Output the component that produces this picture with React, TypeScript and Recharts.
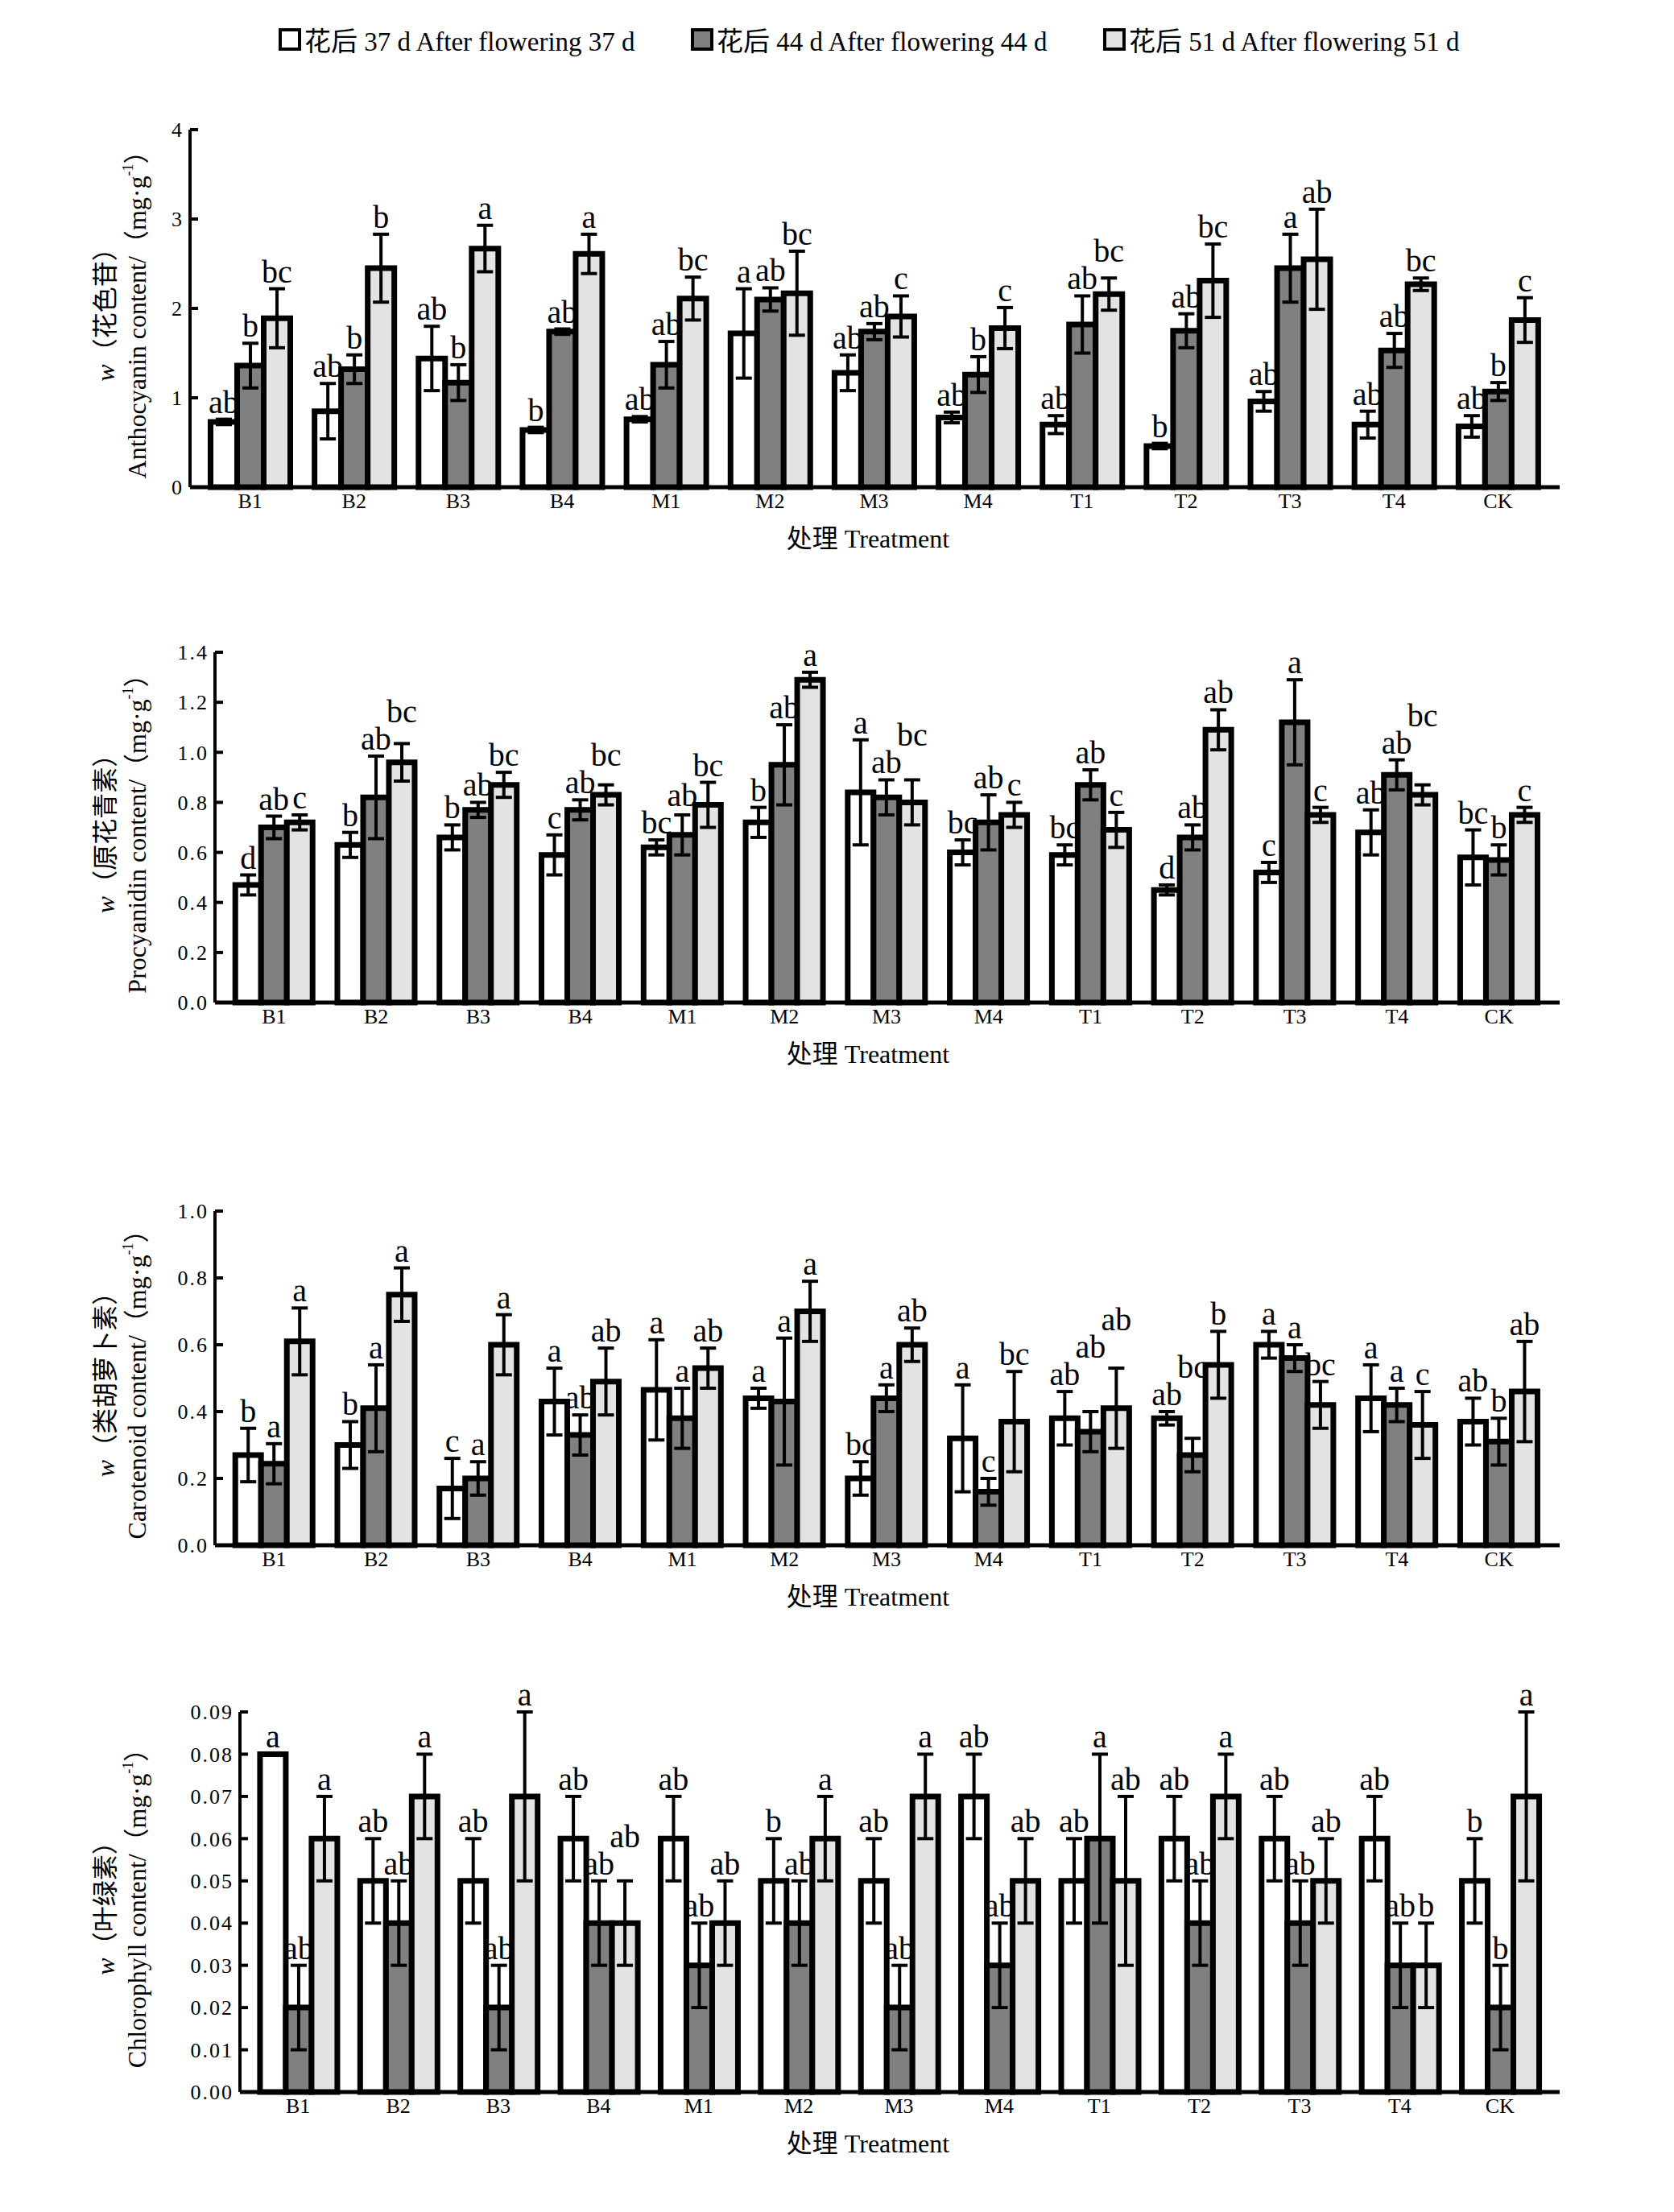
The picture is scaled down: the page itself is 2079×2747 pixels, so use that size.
import React from 'react';
import { BarChart, Bar, XAxis, YAxis, ErrorBar, LabelList } from 'recharts';

const FONT = "'Liberation Serif', 'Noto Sans CJK SC', serif";

const treatments = ['B1', 'B2', 'B3', 'B4', 'M1', 'M2', 'M3', 'M4', 'T1', 'T2', 'T3', 'T4', 'CK'];
const seriesNames = ['花后 37 d After flowering 37 d', '花后 44 d After flowering 44 d', '花后 51 d After flowering 51 d'];
const seriesFills = ['#ffffff', '#808080', '#e3e3e3'];

// Anthocyanin
const antho37 = [0.73, 0.85, 1.44, 0.64, 0.76, 1.72, 1.28, 0.78, 0.70, 0.46, 0.96, 0.70, 0.68];
const antho44 = [1.36, 1.32, 1.17, 1.74, 1.37, 2.10, 1.74, 1.26, 1.82, 1.75, 2.45, 1.53, 1.07];
const antho51 = [1.89, 2.45, 2.67, 2.61, 2.11, 2.17, 1.91, 1.78, 2.16, 2.31, 2.55, 2.27, 1.87];
const anthoErr37 = [0.03, 0.31, 0.36, 0.03, 0.03, 0.50, 0.20, 0.06, 0.10, 0.03, 0.11, 0.15, 0.12];
const anthoErr44 = [0.25, 0.16, 0.20, 0.03, 0.26, 0.13, 0.09, 0.20, 0.32, 0.19, 0.38, 0.19, 0.10];
const anthoErr51 = [0.33, 0.38, 0.26, 0.22, 0.24, 0.47, 0.23, 0.23, 0.18, 0.41, 0.56, 0.07, 0.25];
const anthoSig37 = ['ab', 'ab', 'ab', 'b', 'ab', 'a', 'ab', 'ab', 'ab', 'b', 'ab', 'ab', 'ab'];
const anthoSig44 = ['b', 'b', 'b', 'ab', 'ab', 'ab', 'ab', 'b', 'ab', 'ab', 'a', 'ab', 'b'];
const anthoSig51 = ['bc', 'b', 'a', 'a', 'bc', 'bc', 'c', 'c', 'bc', 'bc', 'ab', 'bc', 'c'];

// Procyanidin
const procy37 = [0.47, 0.63, 0.66, 0.59, 0.62, 0.72, 0.84, 0.60, 0.59, 0.45, 0.52, 0.68, 0.58];
const procy44 = [0.70, 0.82, 0.77, 0.77, 0.67, 0.95, 0.82, 0.72, 0.87, 0.66, 1.12, 0.91, 0.57];
const procy51 = [0.72, 0.96, 0.87, 0.83, 0.79, 1.29, 0.80, 0.75, 0.69, 1.09, 0.75, 0.83, 0.75];
const procyErr37 = [0.04, 0.05, 0.05, 0.08, 0.03, 0.06, 0.21, 0.05, 0.04, 0.02, 0.04, 0.09, 0.11];
const procyErr44 = [0.045, 0.165, 0.03, 0.04, 0.08, 0.16, 0.07, 0.11, 0.06, 0.05, 0.17, 0.06, 0.06];
const procyErr51 = [0.03, 0.075, 0.05, 0.04, 0.09, 0.03, 0.09, 0.05, 0.07, 0.08, 0.03, 0.04, 0.03];
const procySig37 = ['d', 'b', 'b', 'c', 'bc', 'b', 'a', 'bc', 'bc', 'd', 'c', 'ab', 'bc'];
const procySig44 = ['ab', 'ab', 'ab', 'ab', 'ab', 'ab', 'ab', 'ab', 'ab', 'ab', 'a', 'ab', 'b'];
const procySig51 = ['c', 'bc', 'bc', 'bc', 'bc', 'a', 'bc', 'c', 'c', 'ab', 'c', 'bc', 'c'];

// Carotenoid
const carot37 = [0.27, 0.30, 0.17, 0.43, 0.465, 0.44, 0.20, 0.32, 0.38, 0.38, 0.60, 0.44, 0.37];
const carot44 = [0.244, 0.41, 0.20, 0.33, 0.38, 0.43, 0.44, 0.16, 0.34, 0.27, 0.56, 0.42, 0.31];
const carot51 = [0.61, 0.75, 0.60, 0.49, 0.53, 0.70, 0.60, 0.37, 0.41, 0.54, 0.42, 0.36, 0.46];
const carotErr37 = [0.08, 0.07, 0.09, 0.10, 0.15, 0.03, 0.05, 0.16, 0.08, 0.02, 0.04, 0.10, 0.07];
const carotErr44 = [0.06, 0.13, 0.05, 0.06, 0.09, 0.19, 0.04, 0.04, 0.06, 0.05, 0.04, 0.05, 0.07];
const carotErr51 = [0.10, 0.08, 0.09, 0.10, 0.06, 0.09, 0.05, 0.15, 0.12, 0.10, 0.07, 0.10, 0.15];
const carotSig37 = ['b', 'b', 'c', 'a', 'a', 'a', 'bc', 'a', 'ab', 'ab', 'a', 'a', 'ab'];
const carotSig44 = ['a', 'a', 'a', 'ab', 'a', 'a', 'a', 'c', 'ab', 'bc', 'a', 'a', 'b'];
const carotSig51 = ['a', 'a', 'a', 'ab', 'ab', 'a', 'ab', 'bc', 'ab', 'b', 'bc', 'c', 'ab'];

// Chlorophyll
const chl37 = [0.08, 0.05, 0.05, 0.06, 0.06, 0.05, 0.05, 0.07, 0.05, 0.06, 0.06, 0.06, 0.05];
const chl44 = [0.02, 0.04, 0.02, 0.04, 0.03, 0.04, 0.02, 0.03, 0.06, 0.04, 0.04, 0.03, 0.02];
const chl51 = [0.06, 0.07, 0.07, 0.04, 0.04, 0.06, 0.07, 0.05, 0.05, 0.07, 0.05, 0.03, 0.07];
const chlErr37 = [0, 0.01, 0.01, 0.01, 0.01, 0.01, 0.01, 0.01, 0.01, 0.01, 0.01, 0.01, 0.01];
const chlErr44 = [0.01, 0.01, 0.01, 0.01, 0.01, 0.01, 0.01, 0.01, 0.02, 0.01, 0.01, 0.01, 0.01];
const chlErr51 = [0.01, 0.01, 0.02, 0.01, 0.01, 0.01, 0.01, 0.01, 0.02, 0.01, 0.01, 0.01, 0.02];
const chlSig37 = ['a', 'ab', 'ab', 'ab', 'ab', 'b', 'ab', 'ab', 'ab', 'ab', 'ab', 'ab', 'b'];
const chlSig44 = ['ab', 'ab', 'ab', 'ab', 'ab', 'ab', 'ab', 'ab', 'a', 'ab', 'ab', 'ab', 'b'];
const chlSig51 = ['a', 'a', 'a', 'ab', 'ab', 'a', 'a', 'ab', 'ab', 'a', 'ab', 'b', 'a'];

const anthoTicks = [0, 1, 2, 3, 4];
const procyTicks = [0, 0.2, 0.4, 0.6, 0.8, 1.0, 1.2, 1.4];
const carotTicks = [0, 0.2, 0.4, 0.6, 0.8, 1.0];
const chlTicks = [0, 0.01, 0.02, 0.03, 0.04, 0.05, 0.06, 0.07, 0.08, 0.09];

const buildRows = (v: number[][], e: number[][], s: string[][]) =>
  treatments.map((name, i) => ({
    name,
    v37: v[0][i], v44: v[1][i], v51: v[2][i],
    e37: e[0][i], e44: e[1][i], e51: e[2][i],
    s37: s[0][i], s44: s[1][i], s51: s[2][i],
  }));

// significance letter sits just above the error bar; lifted if it would collide with the neighbour's letter
const renderSig = (j: number, values: number[][], errs: number[][], sigs: string[][]) => (props: any) => {
  const vb = props.viewBox ?? props;
  const x = Number(vb.x ?? props.x);
  const y = Number(vb.y ?? props.y);
  const w = Number(vb.width ?? props.width);
  const h = Math.abs(Number(vb.height ?? props.height));
  const i = props.index;
  const v = values[j][i];
  const scale = v > 0 ? h / v : 0;
  const zero = y + h;
  let prev = 0;
  let ly = 0;
  for (let k = 0; k <= j; k++) {
    ly = zero - (values[k][i] + errs[k][i]) * scale - 8;
    if (k > 0 && sigs[k - 1][i].length + sigs[k][i].length >= 4 && Math.abs(ly - prev) < 34) {
      ly = Math.min(ly, prev - 34);
    }
    prev = ly;
  }
  return (
    <text x={x + w / 2} y={ly} textAnchor="middle" fontSize={40} fontFamily={FONT} fill="#000">
      {props.value}
    </text>
  );
};

interface PanelProps {
  top: number;
  height: number;
  axisX: number;
  plotTop: number;
  plotBottom: number;
  values: number[][];
  errs: number[][];
  sigs: string[][];
  ticks: number[];
  digits: number;
  cn: string;
  en: string;
}

function Panel({ top, height, axisX, plotTop, plotBottom, values, errs, sigs, ticks, digits, cn, en }: PanelProps) {
  const rows = buildRows(values, errs, sigs);
  const yWidth = 100;
  const keys = ['37', '44', '51'];
  return (
    <div style={{ position: 'absolute', left: 0, top }}>
      <BarChart
        width={2079}
        height={height}
        data={rows}
        margin={{ top: plotTop - top, left: axisX - yWidth, right: 142, bottom: top + height - plotBottom - 100 }}
        barCategoryGap="12%"
        barGap={0}
      >
        <XAxis
          dataKey="name"
          interval={0}
          height={100}
          tickLine={false}
          tickSize={0}
          tickMargin={8}
          padding={{ left: 10, right: 12 }}
          axisLine={{ stroke: '#000', strokeWidth: 5 }}
          tick={{ fontSize: 26, fill: '#000', fontFamily: FONT }}
          label={(p: any) => (
            <text x={1078} y={(p.viewBox?.y ?? plotBottom - top) + 64} textAnchor="middle" dominantBaseline="central"
              fontSize={32} fontFamily={FONT} fill="#000">
              处理 Treatment
            </text>
          )}
        />
        <YAxis
          width={yWidth}
          domain={[0, ticks[ticks.length - 1]]}
          ticks={ticks}
          tickFormatter={(v: number) => v.toFixed(digits)}
          tickSize={-10}
          tickMargin={18}
          axisLine={{ stroke: '#000', strokeWidth: 4 }}
          tickLine={{ stroke: '#000', strokeWidth: 4 }}
          tick={{ fontSize: 26, fill: '#000', fontFamily: FONT, letterSpacing: 2 }}
          label={(p: any) => {
            const vb = p.viewBox ?? { y: plotTop - top, height: plotBottom - plotTop };
            const cy = vb.y + vb.height / 2;
            return (
              <g fontFamily={FONT} fill="#000" fontSize={32}>
                <text x={131} y={cy} textAnchor="middle" dominantBaseline="central" transform={`rotate(-90 131 ${cy})`}>
                  <tspan fontStyle="italic">w</tspan>
                  <tspan>（{cn}）</tspan>
                </text>
                <text x={170} y={cy} textAnchor="middle" dominantBaseline="central" transform={`rotate(-90 170 ${cy})`}>
                  <tspan>{en}/（mg·g</tspan>
                  <tspan dy={-11} fontSize={18}>-1</tspan>
                  <tspan dy={11}>）</tspan>
                </text>
              </g>
            );
          }}
        />
        {keys.map((k, j) => (
          <Bar
            key={k}
            dataKey={`v${k}`}
            name={seriesNames[j]}
            fill={seriesFills[j]}
            stroke="#000"
            strokeWidth={7}
            isAnimationActive={false}
          >
            <ErrorBar dataKey={`e${k}`} width={10} strokeWidth={4} stroke="#000" direction="y" />
            <LabelList dataKey={`s${k}`} content={renderSig(j, values, errs, sigs)} />
          </Bar>
        ))}
      </BarChart>
    </div>
  );
}

function TopLegend() {
  return (
    <div style={{ position: 'absolute', left: 0, top: 0, width: 2079, height: 100 }}>
      {seriesNames.map((name, i) => (
        <div
          key={name}
          style={{
            position: 'absolute',
            left: 346 + i * 512,
            top: 30,
            height: 38,
            display: 'flex',
            alignItems: 'center',
            fontFamily: FONT,
            fontSize: 33,
            color: '#000',
            whiteSpace: 'nowrap',
          }}
        >
          <span
            style={{
              display: 'inline-block',
              width: 20,
              height: 20,
              border: '4px solid #000',
              background: seriesFills[i],
              marginRight: 4,
            }}
          />
          <span>{name}</span>
        </div>
      ))}
    </div>
  );
}

export default function App() {
  return (
    <div style={{ position: 'absolute', left: 0, top: 0, width: 2079, height: 2747, background: '#fff', overflow: 'hidden' }}>
      <Panel
        top={0} height={720} axisX={236} plotTop={161} plotBottom={605}
        values={[antho37, antho44, antho51]}
        errs={[anthoErr37, anthoErr44, anthoErr51]}
        sigs={[anthoSig37, anthoSig44, anthoSig51]}
        ticks={anthoTicks} digits={0} cn="花色苷" en="Anthocyanin content"
      />
      <Panel
        top={740} height={620} axisX={267} plotTop={810} plotBottom={1245}
        values={[procy37, procy44, procy51]}
        errs={[procyErr37, procyErr44, procyErr51]}
        sigs={[procySig37, procySig44, procySig51]}
        ticks={procyTicks} digits={1} cn="原花青素" en="Procyanidin content"
      />
      <Panel
        top={1400} height={634} axisX={267} plotTop={1504} plotBottom={1919}
        values={[carot37, carot44, carot51]}
        errs={[carotErr37, carotErr44, carotErr51]}
        sigs={[carotSig37, carotSig44, carotSig51]}
        ticks={carotTicks} digits={1} cn="类胡萝卜素" en="Carotenoid content"
      />
      <Panel
        top={2040} height={673} axisX={298} plotTop={2126} plotBottom={2598}
        values={[chl37, chl44, chl51]}
        errs={[chlErr37, chlErr44, chlErr51]}
        sigs={[chlSig37, chlSig44, chlSig51]}
        ticks={chlTicks} digits={2} cn="叶绿素" en="Chlorophyll content"
      />
      <TopLegend />
    </div>
  );
}
